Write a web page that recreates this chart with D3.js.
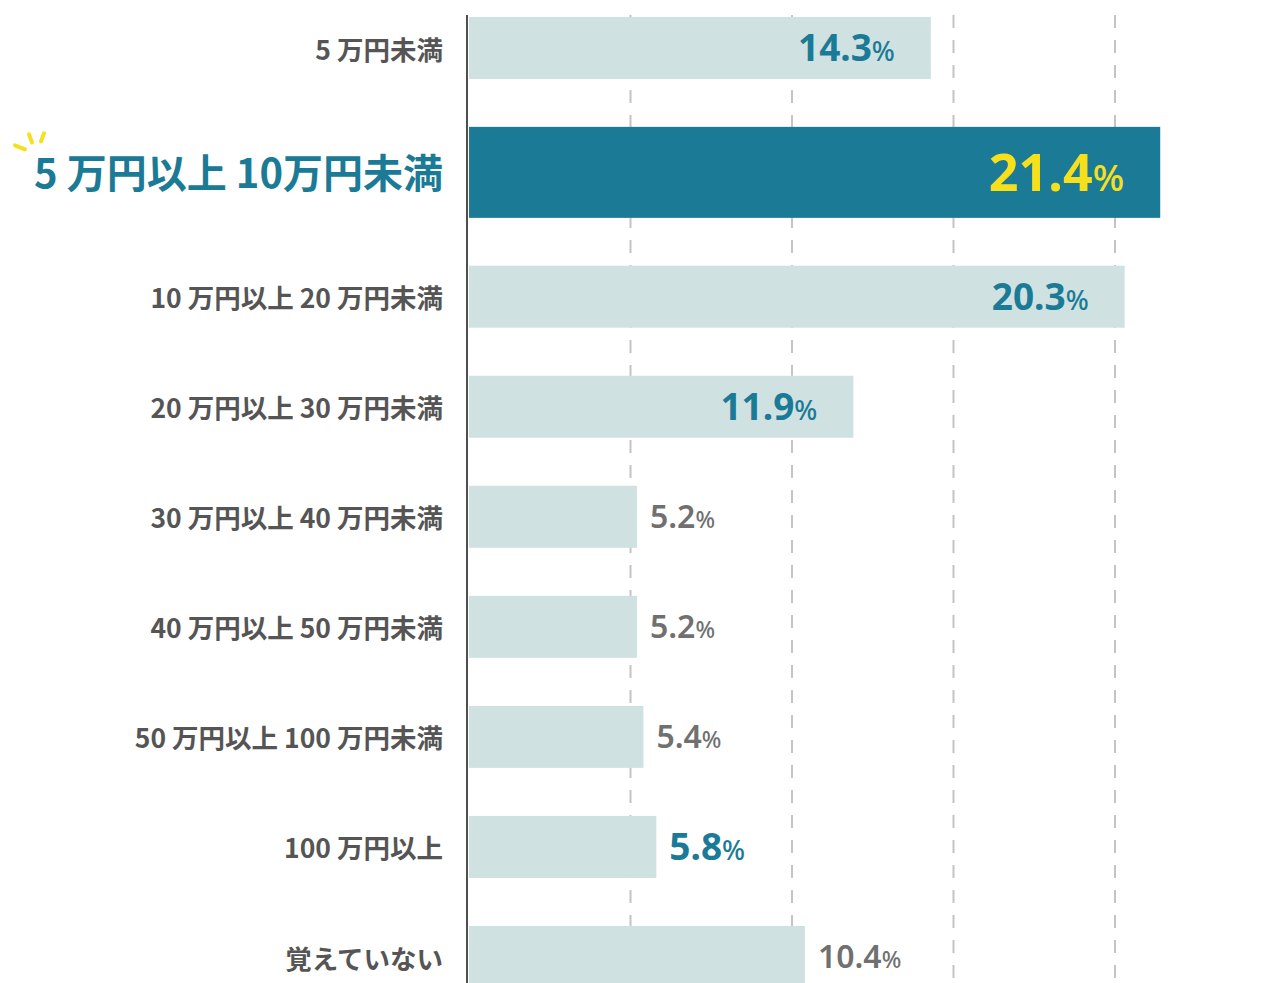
<!DOCTYPE html>
<html><head><meta charset="utf-8">
<script src="https://cdn.jsdelivr.net/npm/d3@7"></script>
<style>
html,body{margin:0;padding:0;background:#fff;overflow:hidden;}
svg{display:block;}
</style></head>
<body>
<script>
const categories = ["5 万円未満","5 万円以上 10万円未満","10 万円以上 20 万円未満","20 万円以上 30 万円未満","30 万円以上 40 万円未満","40 万円以上 50 万円未満","50 万円以上 100 万円未満","100 万円以上","覚えていない"];
const values = [14.3, 21.4, 20.3, 11.9, 5.2, 5.2, 5.4, 5.8, 10.4];
const highlighted = [false, true, false, false, false, false, false, false, false];
const emphasized = [true, true, true, true, false, false, false, true, false];
const gridTicks = [5, 10, 15, 20];

const W = 1269, H = 983;
const svg = d3.select("body").append("svg").attr("width", W).attr("height", H);

const TEAL = "#1b7b96", LIGHT = "#d0e1e2", GREY = "#555555", YELLOW = "#f6e01c";
const NUMFONT = "'Noto Sans', 'Open Sans', sans-serif";
const JPFONT = "'Noto Sans CJK JP', 'Noto Sans', sans-serif";

const x = d3.scaleLinear().domain([0, 20]).range([469, 1115]);

// row layout: highlighted row gets more space
const weights = highlighted.map(h => h ? 1.26 : 1);
const cum = [0];
weights.forEach((w, i) => cum.push(cum[i] + w));
const yU = d3.scaleLinear().domain([0, cum[cum.length - 1]]).range([-7, 1012]);
const rowCenter = i => yU(cum[i] + weights[i] / 2);
const barH = i => highlighted[i] ? 91 : 62;

// gridlines
svg.append("g").selectAll("line").data(gridTicks).join("line")
  .attr("x1", d => x(d)).attr("x2", d => x(d))
  .attr("y1", 15).attr("y2", H)
  .attr("stroke", "#c4c4c4").attr("stroke-width", 2)
  .attr("stroke-dasharray", "13,12");

// bars
svg.append("g").selectAll("rect").data(values).join("rect")
  .attr("x", x(0))
  .attr("y", (d, i) => rowCenter(i) - barH(i) / 2)
  .attr("width", d => x(d) - x(0))
  .attr("height", (d, i) => barH(i))
  .attr("fill", (d, i) => highlighted[i] ? TEAL : LIGHT);

// axis line
svg.append("line").attr("x1", 467).attr("x2", 467).attr("y1", 15).attr("y2", H)
  .attr("stroke", "#4f4f4f").attr("stroke-width", 2);

// category labels
svg.append("g").selectAll("text").data(categories).join("text")
  .attr("x", 443)
  .attr("y", (d, i) => rowCenter(i) + (highlighted[i] ? 1 : 2))
  .attr("dy", "0.36em")
  .attr("text-anchor", "end")
  .attr("font-family", JPFONT)
  .attr("font-weight", 700)
  .attr("font-size", (d, i) => highlighted[i] ? 40 : 26.5)
  .attr("fill", (d, i) => highlighted[i] ? TEAL : GREY)
  .text(d => d);

// sparkle near highlighted label
highlighted.forEach((h, i) => {
  if (!h) return;
  const cy = rowCenter(i);
  const sp = svg.append("g").attr("stroke", YELLOW).attr("stroke-width", 4).attr("stroke-linecap", "round");
  sp.append("line").attr("x1", 15).attr("y1", cy - 27).attr("x2", 25).attr("y2", cy - 23);
  sp.append("line").attr("x1", 29).attr("y1", cy - 38).attr("x2", 32).attr("y2", cy - 30);
  sp.append("line").attr("x1", 44).attr("y1", cy - 39).attr("x2", 41).attr("y2", cy - 31);
});

// value labels
svg.append("g").selectAll("text").data(values).join("text")
  .attr("y", (d, i) => rowCenter(i))
  .attr("dy", "0.36em")
  .attr("font-family", NUMFONT)
  .attr("font-weight", (d, i) => emphasized[i] ? 700 : 600)
  .attr("fill", (d, i) => highlighted[i] ? YELLOW : (emphasized[i] ? TEAL : "#707070"))
  .each(function(d, i) {
    const inside = d >= 11;
    const t = d3.select(this);
    const big = highlighted[i] ? 52 : (emphasized[i] ? 37 : 32);
    t.attr("x", inside ? x(d) - 36 : x(d) + 13)
     .attr("text-anchor", inside ? "end" : "start")
     .attr("font-size", big);
    t.append("tspan").text(d.toFixed(1));
    t.append("tspan").attr("font-size", Math.round(big * 0.72)).attr("font-weight", 500).text("%");
  });
</script>
</body></html>
